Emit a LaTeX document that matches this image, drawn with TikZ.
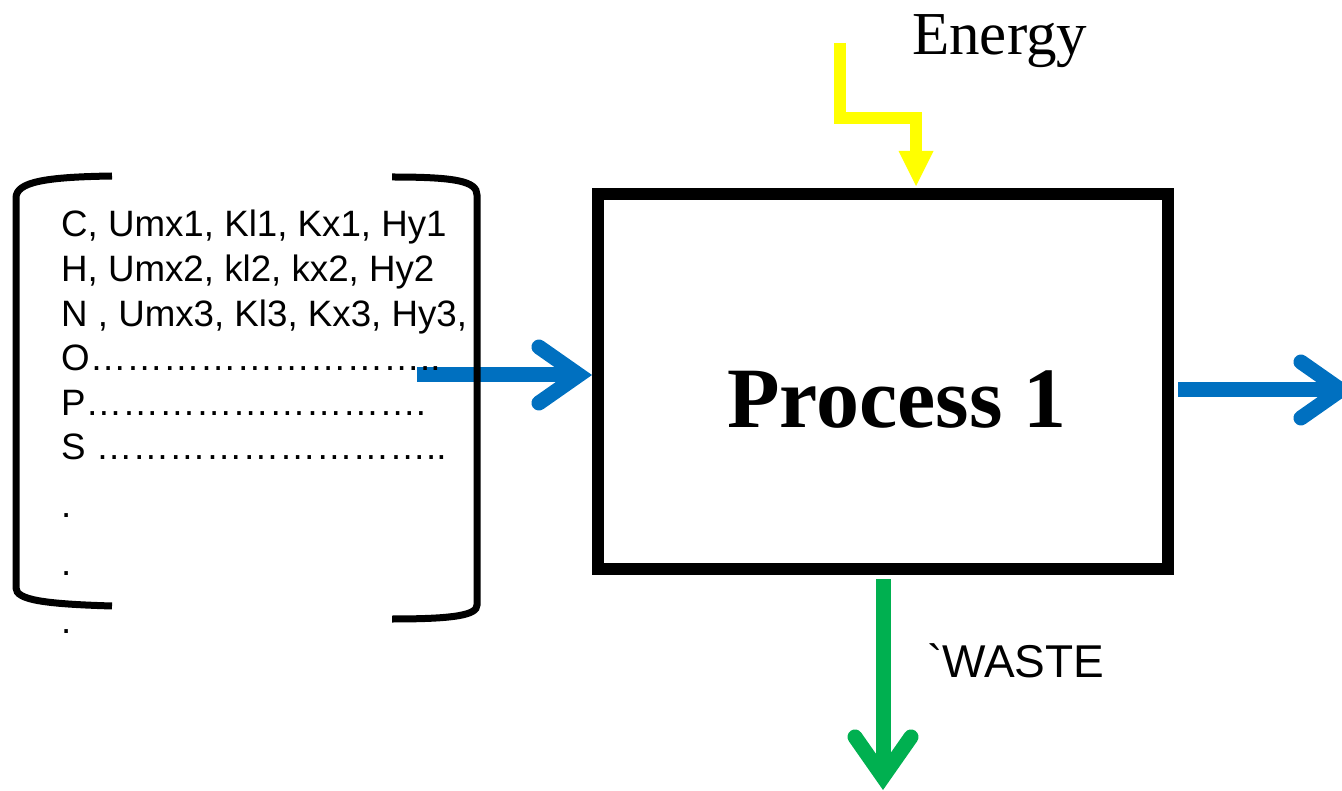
\documentclass[tikz,border=0pt]{standalone}
\usepackage{fontspec}
\setmainfont{Liberation Serif}
\setsansfont{Liberation Sans}
\newfontfamily\plainsans{Liberation Sans}[Ligatures=TeXOff]
\usetikzlibrary{arrows.meta}
\definecolor{FlowBlue}{HTML}{0070C0}
\definecolor{WasteGreen}{HTML}{00B050}
\definecolor{HeatYellow}{HTML}{FFFF00}

\begin{document}
\begin{tikzpicture}[
  x=1pt, y=-1pt,
  procbox/.style={draw=black, line width=12pt, minimum width=570pt, minimum height=375pt, inner sep=0pt},
  rowtext/.style={anchor=base west, inner sep=0pt, font=\sffamily\fontsize{36.7}{44}\selectfont},
  flow/.style={draw=FlowBlue, line width=15pt, -{Straight Barb[length=40pt, width=56pt, line join=miter, line cap=round]}},
  waste/.style={flow, draw=WasteGreen},
  heat/.style={draw=HeatYellow, line width=12pt, line join=miter, -{Triangle[length=35pt, width=35pt, line width=0pt]}},
  brk/.style={draw=black, line width=7pt}
]
\useasboundingbox (0,0) rectangle (1342,791);
\node[procbox] (proc) at (883,381.5) {};
\node[anchor=base, inner sep=0pt, font=\bfseries\fontsize{86}{90}\selectfont] (ptitle) at (897,428) {Process 1};
\coordinate (fin) at (417,375);
\coordinate (fout) at (1354,390);
\coordinate (wout) at (883,790);
\coordinate (ein) at (840,43);
\coordinate (ebend) at (916,118);
\draw[flow] (fin) -- (fin -| proc.west);
\draw[flow, shorten <=4pt] (proc.east |- fout) -- (fout);
\draw[waste, shorten <=4pt] (proc.south) -- (wout);
\draw[heat, shorten >=2pt] (ein) |- (ebend) -- (ebend |- proc.north);
\node[anchor=base west, inner sep=0pt, font=\fontsize{61}{64}\selectfont] (elabel) at (912,55) {Energy};
\node[anchor=base west, inner sep=0pt, font=\plainsans\fontsize{46}{50}\selectfont] (wlabel) at (927,677) {`WASTE};
% element rows
\foreach \i/\row in {
  0/{C, Umx1, Kl1, Kx1, Hy1},
  1/{H, Umx2, kl2, kx2, Hy2},
  2/{N , Umx3, Kl3, Kx3, Hy3,},
  3/{O………………………..},
  4/{P……………………….},
  5/{S ………………………..}
}{
  \node[rowtext] (r\i) at (61, 237+\i*44.6) {\row};
}
\foreach \j/\yy in {0/517, 1/575, 2/633}{
  \node[rowtext] (d\j) at (61,\yy) {.};
}
% brackets
\draw[brk] (112,176) .. controls (45,177) and (16,182) .. (16,198) -- (16,588) .. controls (16,600) and (45,604) .. (112,606);
\draw[brk] (392,177) .. controls (455,177) and (477,181) .. (477,195) -- (477,605) .. controls (477,615) and (455,619) .. (392,619);
\end{tikzpicture}
\end{document}
